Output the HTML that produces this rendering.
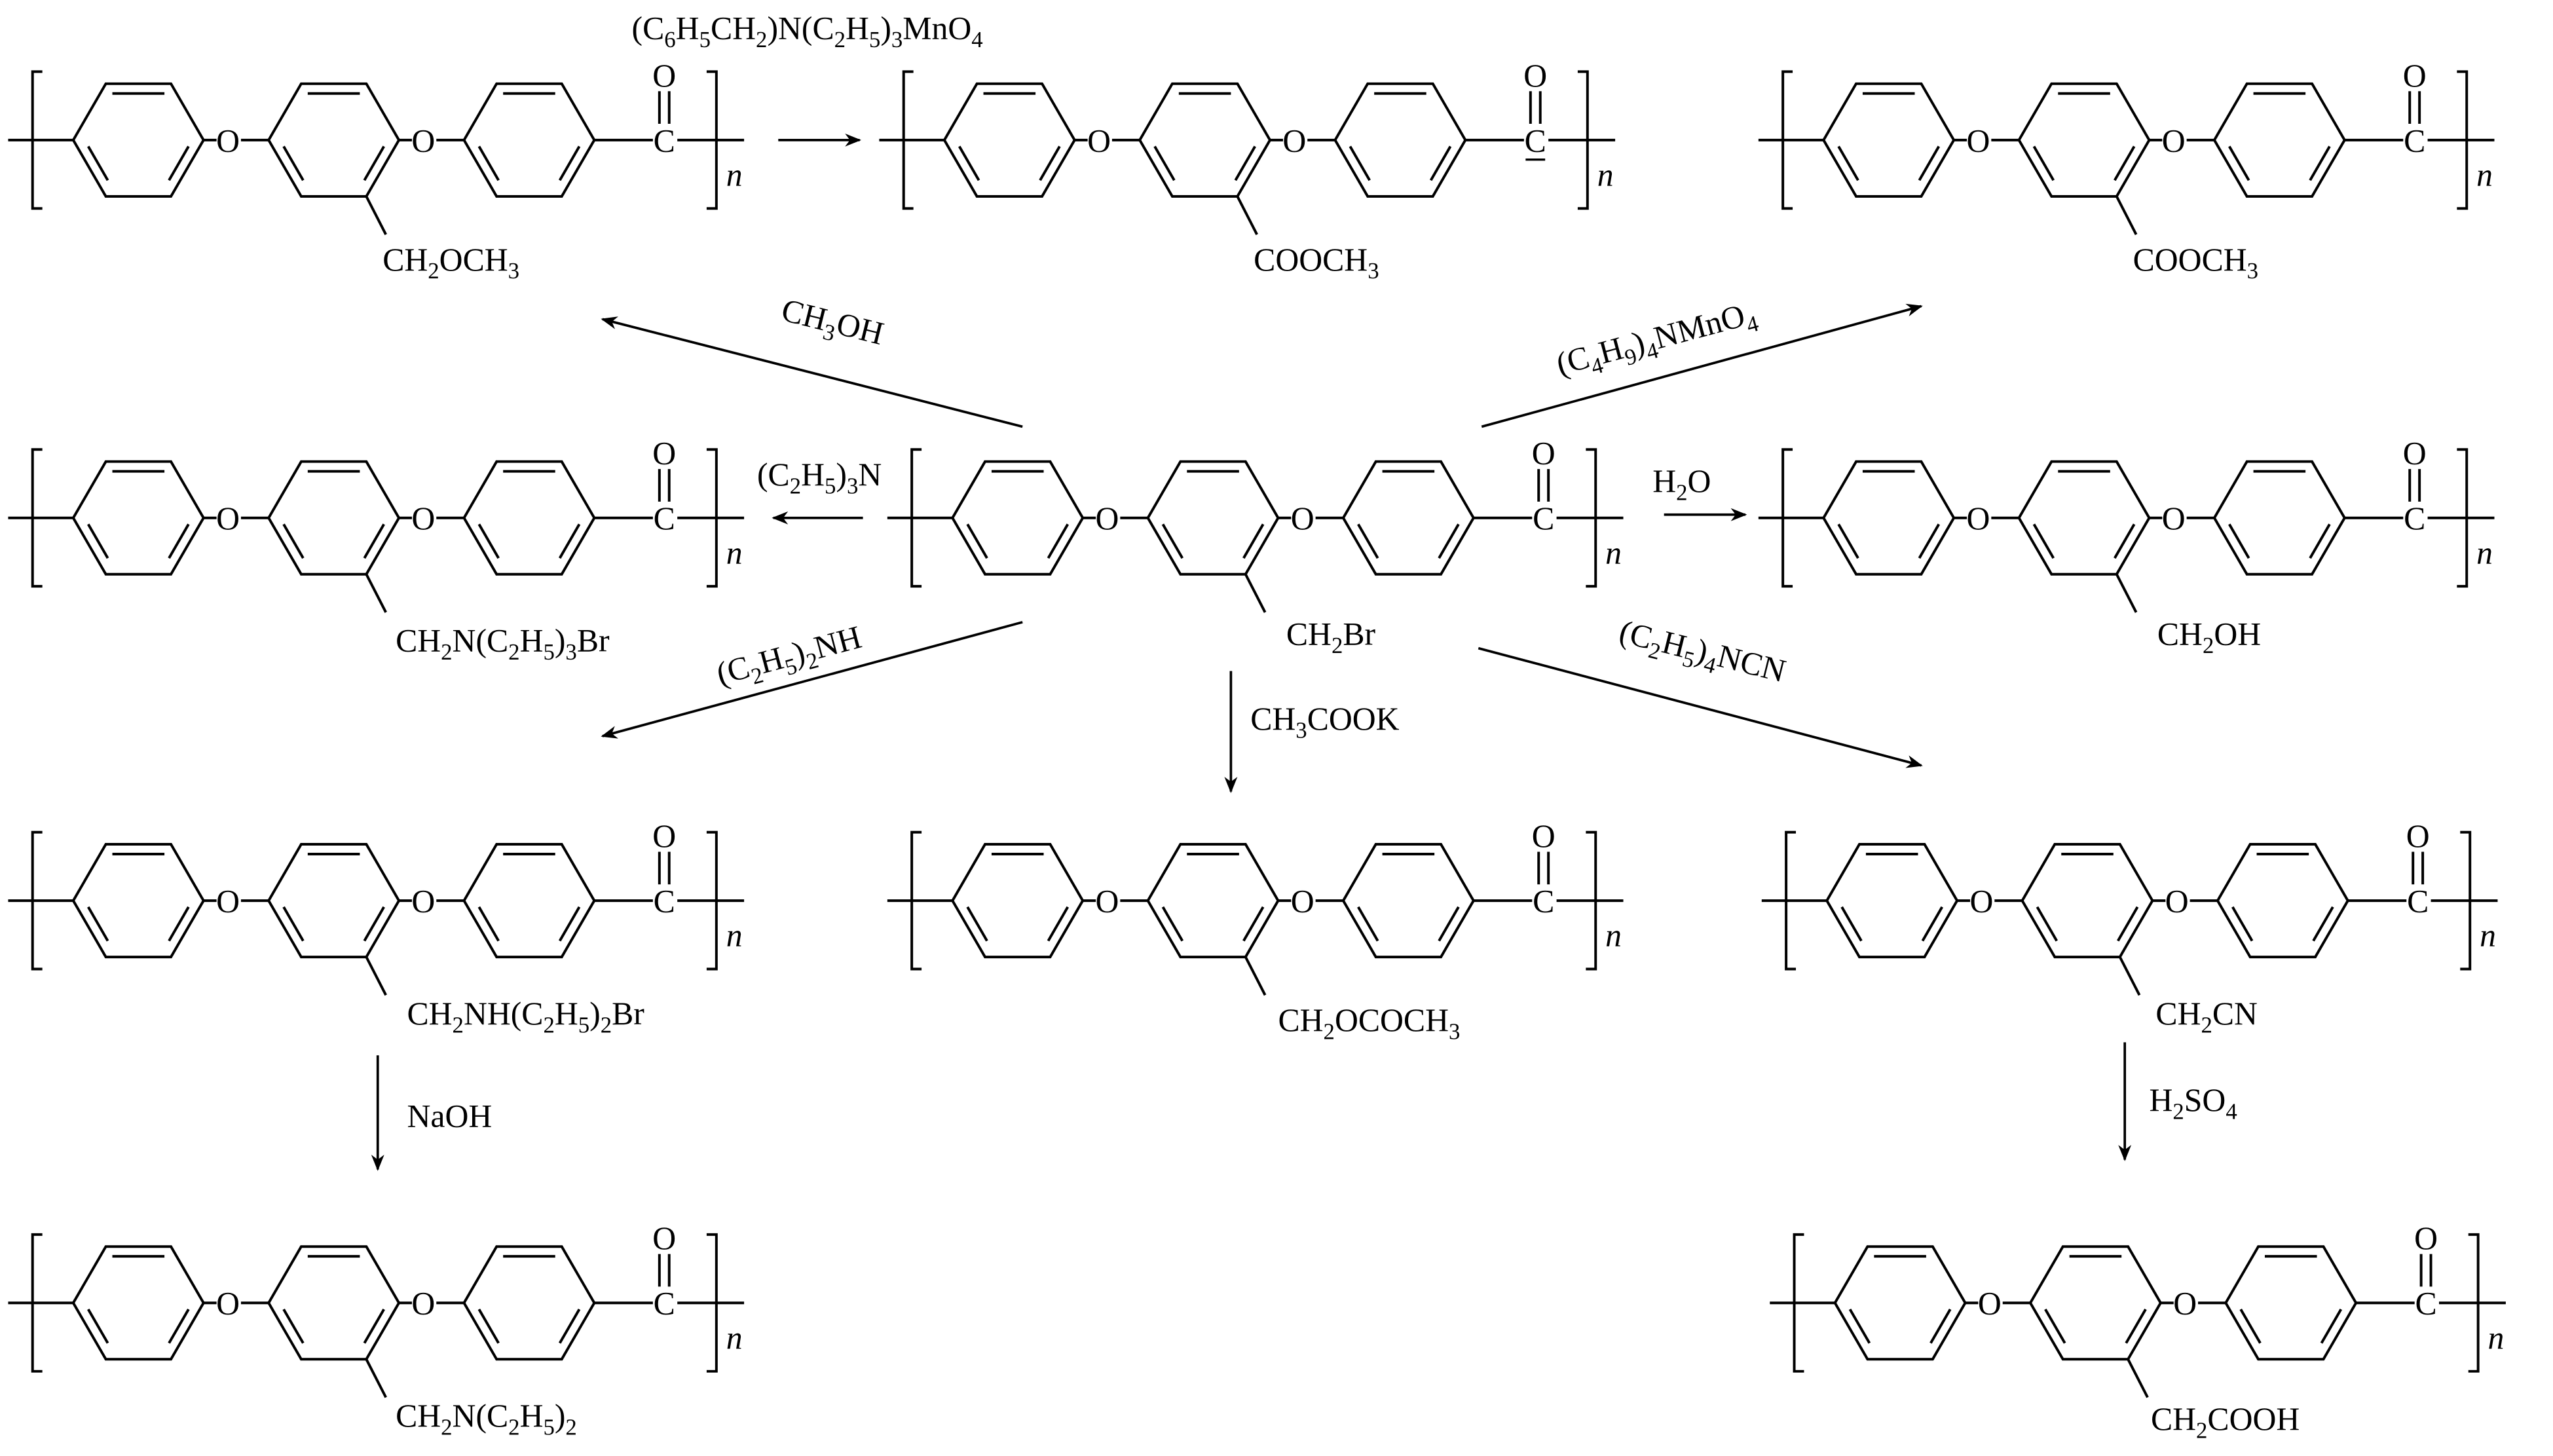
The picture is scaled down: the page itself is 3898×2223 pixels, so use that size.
<!DOCTYPE html>
<html><head><meta charset="utf-8"><style>
html,body{margin:0;padding:0;background:#fff;}
svg{display:block;}
text{font-family:"Liberation Serif",serif;font-size:20px;fill:#000;}
.sub{font-size:14px;}
</style></head><body>
<svg width="3898" height="2223" viewBox="0 0 1568 894" preserveAspectRatio="none" xmlns="http://www.w3.org/2000/svg">
<defs>
<marker id="ah" markerWidth="10" markerHeight="8" refX="9" refY="4" orient="auto" markerUnits="userSpaceOnUse">
<path d="M0,0 L10,4 L0,8 L3,4 Z" fill="#000"/></marker>
<g id="ring" fill="none" stroke="#000" stroke-width="1.6">
<polygon points="-40,0 -20,-34.6 20,-34.6 40,0 20,34.6 -20,34.6"/>
<line x1="-16" y1="-28.6" x2="16" y2="-28.6"/>
<line x1="30.8" y1="3.9" x2="18.8" y2="24.7"/>
<line x1="-30.8" y1="3.9" x2="-18.8" y2="24.7"/>
</g>
<g id="unit">
<g stroke="#000" stroke-width="1.6" fill="none">
<line x1="0" y1="0" x2="40" y2="0"/>
<path d="M21,-42 H15 V42 H21"/>
<line x1="120" y1="0" x2="128" y2="0"/>
<line x1="143" y1="0" x2="160" y2="0"/>
<line x1="240" y1="0" x2="248" y2="0"/>
<line x1="263" y1="0" x2="280" y2="0"/>
<line x1="360" y1="0" x2="396" y2="0"/>
<line x1="411" y1="0" x2="452" y2="0"/>
<line x1="400" y1="-30" x2="400" y2="-10"/>
<line x1="406" y1="-30" x2="406" y2="-10"/>
<path d="M429,-42 H435 V42 H429"/>
<line x1="220" y1="34.6" x2="232" y2="58"/>
</g>
<use href="#ring" x="80" y="0"/>
<use href="#ring" x="200" y="0"/>
<use href="#ring" x="320" y="0"/>
<text x="135" y="7" text-anchor="middle">O</text>
<text x="255" y="7" text-anchor="middle">O</text>
<text x="403" y="7" text-anchor="middle">C</text>
<text x="403" y="-33" text-anchor="middle">O</text>
<text x="441" y="28" font-style="italic">n</text>
</g>
</defs>

<g transform="translate(5,86)"><use href="#unit"/><text x="230" y="80">CH<tspan class="sub" dy="5">2</tspan><tspan dy="-5">OCH</tspan><tspan class="sub" dy="5">3</tspan></text></g>
<g transform="translate(540,86)"><use href="#unit"/><line x1="397" y1="12" x2="409" y2="12" stroke="#000" stroke-width="1.4"/><text x="230" y="80">COOCH<tspan class="sub" dy="5">3</tspan></text></g>
<g transform="translate(1080,86)"><use href="#unit"/><text x="230" y="80">COOCH<tspan class="sub" dy="5">3</tspan></text></g>

<g transform="translate(5,318)"><use href="#unit"/><text x="238" y="82">CH<tspan class="sub" dy="5">2</tspan><tspan dy="-5">N(C</tspan><tspan class="sub" dy="5">2</tspan><tspan dy="-5">H</tspan><tspan class="sub" dy="5">5</tspan><tspan dy="-5">)</tspan><tspan class="sub" dy="5">3</tspan><tspan dy="-5">Br</tspan></text></g>
<g transform="translate(545,318)"><use href="#unit"/><text x="245" y="78">CH<tspan class="sub" dy="5">2</tspan><tspan dy="-5">Br</tspan></text></g>
<g transform="translate(1080,318)"><use href="#unit"/><text x="245" y="78">CH<tspan class="sub" dy="5">2</tspan><tspan dy="-5">OH</tspan></text></g>

<g transform="translate(5,553)"><use href="#unit"/><text x="245" y="76">CH<tspan class="sub" dy="5">2</tspan><tspan dy="-5">NH(C</tspan><tspan class="sub" dy="5">2</tspan><tspan dy="-5">H</tspan><tspan class="sub" dy="5">5</tspan><tspan dy="-5">)</tspan><tspan class="sub" dy="5">2</tspan><tspan dy="-5">Br</tspan></text></g>
<g transform="translate(545,553)"><use href="#unit"/><text x="240" y="80">CH<tspan class="sub" dy="5">2</tspan><tspan dy="-5">OCOCH</tspan><tspan class="sub" dy="5">3</tspan></text></g>
<g transform="translate(1082,553)"><use href="#unit"/><text x="242" y="76">CH<tspan class="sub" dy="5">2</tspan><tspan dy="-5">CN</tspan></text></g>

<g transform="translate(5,800)"><use href="#unit"/><text x="238" y="76">CH<tspan class="sub" dy="5">2</tspan><tspan dy="-5">N(C</tspan><tspan class="sub" dy="5">2</tspan><tspan dy="-5">H</tspan><tspan class="sub" dy="5">5</tspan><tspan dy="-5">)</tspan><tspan class="sub" dy="5">2</tspan></text></g>
<g transform="translate(1087,800)"><use href="#unit"/><text x="234" y="78">CH<tspan class="sub" dy="5">2</tspan><tspan dy="-5">COOH</tspan></text></g>

<g stroke="#000" stroke-width="1.5" fill="none" marker-end="url(#ah)">
<line x1="478" y1="86" x2="528" y2="86"/>
<line x1="628" y1="262" x2="370" y2="196"/>
<line x1="910" y1="262" x2="1180" y2="188"/>
<line x1="530" y1="318" x2="475" y2="318"/>
<line x1="1022" y1="316" x2="1072" y2="316"/>
<line x1="628" y1="382" x2="370" y2="452"/>
<line x1="756" y1="412" x2="756" y2="486"/>
<line x1="908" y1="398" x2="1180" y2="470"/>
<line x1="232" y1="648" x2="232" y2="718"/>
<line x1="1305" y1="640" x2="1305" y2="712"/>
</g>

<text x="388" y="24">(C<tspan class="sub" dy="5">6</tspan><tspan dy="-5">H</tspan><tspan class="sub" dy="5">5</tspan><tspan dy="-5">CH</tspan><tspan class="sub" dy="5">2</tspan><tspan dy="-5">)N(C</tspan><tspan class="sub" dy="5">2</tspan><tspan dy="-5">H</tspan><tspan class="sub" dy="5">5</tspan><tspan dy="-5">)</tspan><tspan class="sub" dy="5">3</tspan><tspan dy="-5">MnO</tspan><tspan class="sub" dy="5">4</tspan></text>
<text x="478" y="204" transform="rotate(14 510 204)">CH<tspan class="sub" dy="5">3</tspan><tspan dy="-5">OH</tspan></text>
<text x="952" y="208" transform="rotate(-15 1040 196)">(C<tspan class="sub" dy="5">4</tspan><tspan dy="-5">H</tspan><tspan class="sub" dy="5">9</tspan><tspan dy="-5">)</tspan><tspan class="sub" dy="5">4</tspan><tspan dy="-5">NMnO</tspan><tspan class="sub" dy="5">4</tspan></text>
<text x="438" y="408" transform="rotate(-15 488 398)">(C<tspan class="sub" dy="5">2</tspan><tspan dy="-5">H</tspan><tspan class="sub" dy="5">5</tspan><tspan dy="-5">)</tspan><tspan class="sub" dy="5">2</tspan><tspan dy="-5">NH</tspan></text>
<text x="465" y="298">(C<tspan class="sub" dy="5">2</tspan><tspan dy="-5">H</tspan><tspan class="sub" dy="5">5</tspan><tspan dy="-5">)</tspan><tspan class="sub" dy="5">3</tspan><tspan dy="-5">N</tspan></text>
<text x="1015" y="302">H<tspan class="sub" dy="5">2</tspan><tspan dy="-5">O</tspan></text>
<text x="768" y="448">CH<tspan class="sub" dy="5">3</tspan><tspan dy="-5">COOK</tspan></text>
<text x="990" y="408" transform="rotate(14 1050 415)">(C<tspan class="sub" dy="5">2</tspan><tspan dy="-5">H</tspan><tspan class="sub" dy="5">5</tspan><tspan dy="-5">)</tspan><tspan class="sub" dy="5">4</tspan><tspan dy="-5">NCN</tspan></text>
<text x="250" y="692">NaOH</text>
<text x="1320" y="682">H<tspan class="sub" dy="5">2</tspan><tspan dy="-5">SO</tspan><tspan class="sub" dy="5">4</tspan></text>
</svg>
</body></html>
